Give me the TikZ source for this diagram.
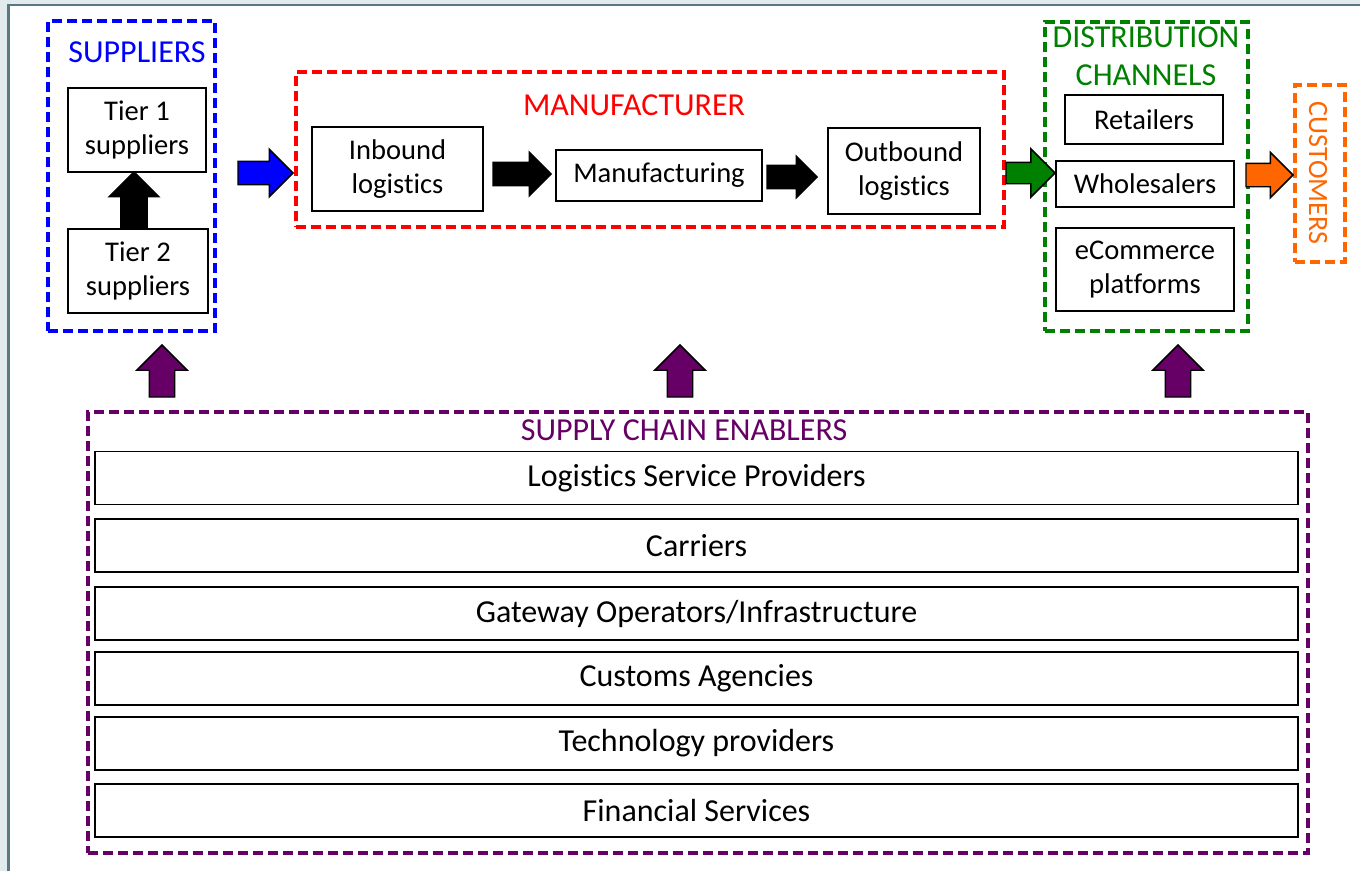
\documentclass[tikz,border=0pt]{standalone}
\usepackage{fontspec}
\setmainfont[Ligatures=NoCommon]{Carlito}
\usetikzlibrary{shapes.arrows}

\definecolor{supblue}{RGB}{0,0,255}
\definecolor{manred}{RGB}{255,0,0}
\definecolor{disgreen}{RGB}{0,128,0}
\definecolor{cusorange}{RGB}{255,102,0}
\definecolor{enpurple}{RGB}{102,0,102}
\definecolor{framegray}{RGB}{226,234,237}
\definecolor{frameline}{RGB}{88,120,130}

\tikzset{
  boxsize/.style 2 args={minimum width=#1*0.75pt,minimum height=#2*0.75pt},
  groupbox/.style={draw=#1,line width=2.6pt,dash pattern=on 7.5pt off 3.75pt,inner sep=0pt},
  stage/.style={draw,line width=1.1pt,inner sep=0pt,align=center,font=\fontsize{21.4}{25.5}\selectfont},
  enabler/.style={draw,line width=1.1pt,inner sep=0pt,boxsize={1203}{53},font=\fontsize{24}{29}\selectfont},
  heading/.style={text=#1,align=center,inner sep=0pt,font=\fontsize{24}{28.5}\selectfont},
  blockarrow/.style n args={4}{shape=single arrow,draw=black,line width=1.1pt,fill=#1,
    inner sep=#4*0.375pt,outer sep=0pt,anchor=tip,single arrow head indent=0pt,
    minimum height=#2*0.75pt,minimum width=#3*0.75pt,single arrow head extend=(#3-#4)*0.375pt},
}

\begin{document}
\begin{tikzpicture}[x=0.75pt,y=-0.75pt]
\useasboundingbox (0,0) rectangle (1360,871);
\fill [framegray] (0,0) rectangle (1360,871);
\fill [white] (8.5,5) rectangle (1360,871);
\draw [frameline,line width=2.2pt] (8.5,871) -- (8.5,5) -- (1360,5);

% suppliers
\node [groupbox=supblue,boxsize={167}{310}] (suppliers) at (131.5,176) {};
\node [heading=supblue] (suptitle) at (137,52) {SUPPLIERS};
\node [stage,boxsize={138}{84}] (tier1) at (137,130) {Tier 1\\suppliers};
\node [stage,boxsize={140}{84}] (tier2) at (138,271) {Tier 2\\suppliers};
\node [blockarrow={black}{57}{48}{25},shape border rotate=90] (tierarrow) at (134,172) {};

% manufacturer
\node [groupbox=manred,boxsize={708}{155}] (manufacturer) at (650,149.5) {};
\node [heading=manred] (mantitle) at (634,105) {MANUFACTURER};
\node [stage,boxsize={171}{84}] (inbound) at (397.5,169) {Inbound\\logistics};
\node [stage,boxsize={206}{51}] (mfg) at (659,175.5) {Manufacturing};
\node [stage,boxsize={152}{86}] (outbound) at (904,171) {Outbound\\logistics};
\node [blockarrow={supblue}{55}{46}{22}] (suparrow) at (293,173) {};
\node [blockarrow={black}{58}{42}{22}] (inarrow) at (551,174) {};
\node [blockarrow={black}{50}{40}{22}] (outarrow) at (817,177) {};

% distribution channels
\node [groupbox=disgreen,boxsize={203}{309}] (distribution) at (1146.5,176.5) {};
\node [heading=disgreen] (distitle) at (1146,56) {DISTRIBUTION\\CHANNELS};
\node [stage,boxsize={158}{49}] (retailers) at (1144,119.5) {Retailers};
\node [stage,boxsize={178}{46}] (wholesalers) at (1145,184) {Wholesalers};
\node [stage,boxsize={178}{83}] (ecommerce) at (1145,269.5) {eCommerce\\platforms};
\node [blockarrow={disgreen}{49}{47}{20}] (disarrow) at (1055,173) {};

% customers
\node [groupbox=cusorange,boxsize={50}{177}] (customers) at (1320,173.5) {};
\node [text=cusorange,rotate=-90,inner sep=0pt,font=\fontsize{21}{25}\selectfont] (custitle) at (1318,173) {CUSTOMERS};
\node [blockarrow={cusorange}{47}{44}{22}] (cusarrow) at (1293,175) {};

% enablers
\node [groupbox=enpurple,boxsize={1220}{441}] (enablers) at (698,632.5) {};
\node [heading=enpurple] (entitle) at (684,430) {SUPPLY CHAIN ENABLERS};
\node [enabler] (lsp) at (696.5,478) {Logistics Service Providers};
\node [enabler] (carriers) at (696.5,545.5) {Carriers};
\node [enabler] (gateway) at (696.5,613.5) {Gateway Operators/Infrastructure};
\node [enabler] (customs) at (696.5,678.5) {Customs Agencies};
\node [enabler] (tech) at (696.5,743.5) {Technology providers};
\node [enabler] (finance) at (696.5,810.5) {Financial Services};
\foreach \x/\name in {162/ensup,680/enman,1178/endis}
  \node [blockarrow={enpurple}{52}{49}{24},shape border rotate=90] (\name) at (\x,345) {};
\end{tikzpicture}
\end{document}
